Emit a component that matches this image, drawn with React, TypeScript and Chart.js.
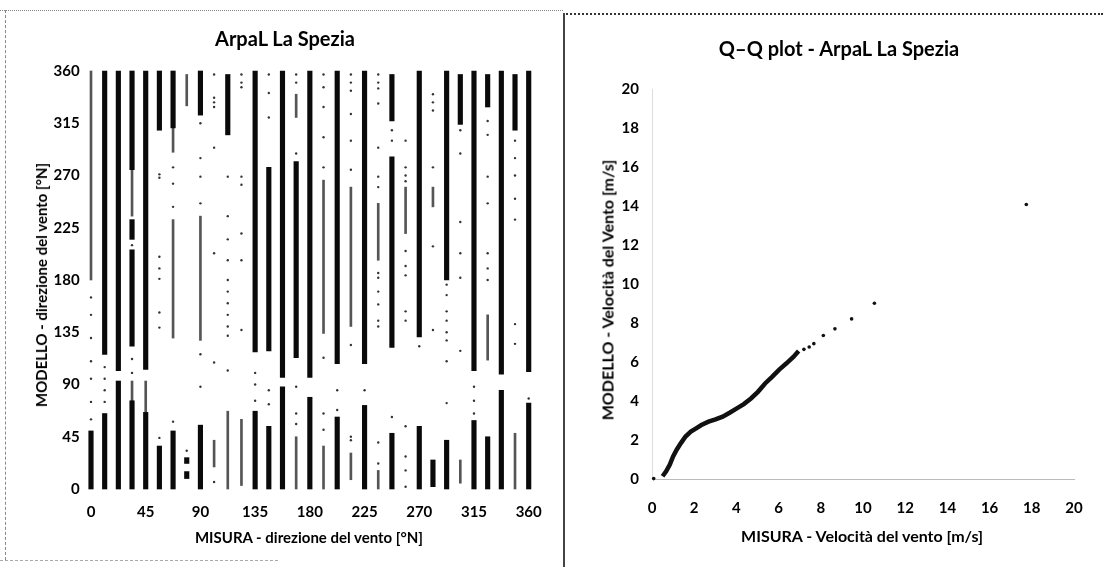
import React, { useEffect, useRef } from "react";
import { Chart, registerables } from "chart.js";

Chart.register(...registerables);

// ---------- Left chart: wind direction (32 sectors of 11.25°) ----------
const SECTOR_STEP = 11.25;
const DIR_TICKS = [0, 45, 90, 135, 180, 225, 270, 315, 360];

// [sector index, from °, to °] — dense bands of points
const DIR_DENSE: [number, number, number][] = [
  [0, 0, 50],
  [1, 0, 65], [1, 116, 360],
  [2, 0, 93], [2, 102, 360],
  [3, 0, 76], [3, 123, 206], [3, 215, 232], [3, 275, 360],
  [4, 0, 66], [4, 103, 360],
  [5, 0, 37], [5, 309, 360],
  [6, 0, 50], [6, 311, 360],
  [7, 22, 27], [7, 9, 15],
  [8, 0, 55], [8, 322, 360],
  [10, 305, 357],
  [12, 0, 67], [12, 118, 360],
  [13, 0, 54], [13, 119, 277],
  [14, 0, 88], [14, 96, 360],
  [15, 113, 282],
  [16, 0, 79], [16, 96, 360],
  [18, 0, 62], [18, 108, 360],
  [20, 0, 72], [20, 108, 360],
  [22, 0, 48], [22, 122, 286], [22, 317, 357],
  [24, 0, 54], [24, 131, 360],
  [25, 2, 25],
  [26, 0, 42], [26, 180, 360],
  [27, 314, 357],
  [28, 0, 59], [28, 102, 360],
  [29, 0, 45], [29, 329, 357],
  [30, 0, 85], [30, 99, 360],
  [31, 309, 357],
  [32, 0, 74], [32, 101, 360],
];

// lighter bands (fewer points)
const DIR_LIGHT: [number, number, number][] = [
  [0, 180, 360],
  [3, 76, 93], [3, 235, 275],
  [4, 66, 93],
  [6, 290, 311], [6, 130, 232],
  [7, 330, 357],
  [8, 128, 235],
  [9, 19, 42],
  [10, 0, 67],
  [11, 3, 60],
  [15, 0, 45], [15, 320, 340],
  [17, 0, 37], [17, 134, 266],
  [19, 8, 31], [19, 140, 260],
  [21, 0, 16], [21, 197, 246],
  [23, 220, 260],
  [25, 243, 260],
  [27, 5, 25],
  [29, 111, 150],
  [31, 0, 48],
];

// isolated points [sector index, °]
const DIR_SPARSE: [number, number][] = [
  [0, 60], [0, 75], [0, 95], [0, 110], [0, 130], [0, 150], [0, 165],
  [1, 75], [1, 85], [1, 95], [1, 105],
  [3, 100], [3, 112], [3, 210],
  [5, 44], [5, 139], [5, 152], [5, 181], [5, 190], [5, 200], [5, 268], [5, 271],
  [6, 58], [6, 243], [6, 263], [6, 277],
  [7, 33],
  [8, 88], [8, 116], [8, 246], [8, 269], [8, 285], [8, 315],
  [9, 6], [9, 109], [9, 203], [9, 294], [9, 329], [9, 333], [9, 337], [9, 357],
  [10, 102], [10, 132], [10, 140], [10, 150], [10, 160], [10, 170], [10, 180], [10, 197], [10, 215], [10, 235], [10, 269],
  [11, 137], [11, 197], [11, 220], [11, 262], [11, 269], [11, 346], [11, 350], [11, 357],
  [12, 76], [12, 90], [12, 100],
  [13, 73], [13, 85], [13, 320], [13, 341], [13, 357],
  [15, 56], [15, 65], [15, 88], [15, 289], [15, 350], [15, 357],
  [17, 51], [17, 65], [17, 113], [17, 277], [17, 303], [17, 329], [17, 346], [17, 357],
  [18, 68], [18, 85],
  [19, 42], [19, 45], [19, 124], [19, 275], [19, 300], [19, 323], [19, 343], [19, 350], [19, 357],
  [20, 85],
  [21, 22], [21, 40], [21, 140], [21, 145], [21, 159], [21, 170], [21, 182], [21, 186], [21, 260], [21, 269], [21, 294], [21, 332], [21, 345], [21, 350], [21, 357],
  [22, 62], [22, 300], [22, 309],
  [23, 2], [23, 16], [23, 28], [23, 54], [23, 145], [23, 153], [23, 184], [23, 192], [23, 205], [23, 265], [23, 270], [23, 277], [23, 300],
  [24, 123],
  [25, 137], [25, 209], [25, 277], [25, 326], [25, 333], [25, 340],
  [26, 74], [26, 110], [26, 128], [26, 135], [26, 145], [26, 153], [26, 167], [26, 176],
  [27, 119], [27, 182], [27, 203], [27, 230], [27, 289], [27, 309],
  [28, 65], [28, 76], [28, 88],
  [29, 180], [29, 190], [29, 203], [29, 246], [29, 269], [29, 305], [29, 317],
  [31, 125], [31, 142], [31, 232], [31, 250], [31, 270], [31, 285], [31, 300],
  [32, 78],
];

// ---------- Right chart: Q-Q plot of wind speed ----------
const QQ_TICKS = [0, 2, 4, 6, 8, 10, 12, 14, 16, 18, 20];
// dense part of the quantile curve (measured, model) in m/s
const QQ_BAND_X = [0.5, 0.67, 0.84, 1.0, 1.17, 1.37, 1.59, 1.84, 2.09, 2.34, 2.68, 3.01, 3.35, 3.68, 4.02, 4.35, 4.69, 5.02, 5.36, 5.69, 6.03, 6.36, 6.7, 6.95];
const QQ_BAND_Y = [0.14, 0.39, 0.73, 1.16, 1.5, 1.84, 2.18, 2.43, 2.6, 2.77, 2.94, 3.06, 3.2, 3.4, 3.62, 3.84, 4.13, 4.47, 4.9, 5.24, 5.61, 5.92, 6.26, 6.56];
// isolated upper quantiles
const QQ_TAIL_X = [0.08, 7.2, 7.45, 7.67, 8.12, 8.67, 9.46, 10.54, 17.74];
const QQ_TAIL_Y = [0.02, 6.65, 6.77, 6.94, 7.36, 7.7, 8.21, 9.01, 14.08];

const FONT = "Lato, 'Open Sans', sans-serif";
const TICK_FONT = { family: FONT, size: 15, weight: "bold" };

function LeftChart() {
  const ref = useRef<HTMLCanvasElement | null>(null);
  useEffect(() => {
    const toBar = (arr: [number, number, number][]) =>
      arr.map(([k, a, b]) => ({ x: k * SECTOR_STEP, y: [a, b] as [number, number] }));
    const chart = new Chart(ref.current as HTMLCanvasElement, {
      type: "bar",
      data: {
        datasets: [
          {
            type: "bar",
            label: "dense",
            data: toBar(DIR_DENSE) as any,
            backgroundColor: "#0a0a0a",
            grouped: false,
            barThickness: 4.5,
            maxBarThickness: 4.5,
            clip: false as any,
          } as any,
          {
            type: "bar",
            label: "light",
            data: toBar(DIR_LIGHT) as any,
            backgroundColor: "#555",
            grouped: false,
            barThickness: 2,
            maxBarThickness: 2,
            clip: false as any,
          } as any,
          {
            type: "scatter",
            label: "sparse",
            data: DIR_SPARSE.map(([k, v]) => ({ x: k * SECTOR_STEP, y: v })) as any,
            backgroundColor: "#333",
            borderWidth: 0,
            pointRadius: 1.2,
            clip: false as any,
          } as any,
        ],
      },
      options: {
        animation: false,
        responsive: false,
        maintainAspectRatio: false,
        layout: { padding: { left: 0, right: 15.7, top: 71, bottom: 0 } },
        plugins: { legend: { display: false }, tooltip: { enabled: false } },
        scales: {
          x: {
            type: "linear",
            min: -6,
            max: 366,
            offset: false,
            grid: { display: false, drawTicks: false },
            border: { display: false },
            afterFit: (s: any) => { s.height = 78; },
            afterBuildTicks: (s: any) => { s.ticks = DIR_TICKS.map((v) => ({ value: v })); },
            ticks: { color: "#000", padding: 14, font: TICK_FONT },
          },
          y: {
            type: "linear",
            min: 0,
            max: 360,
            grid: { display: false, drawTicks: false },
            border: { display: false },
            afterFit: (s: any) => { s.width = 83.7; },
            afterBuildTicks: (s: any) => { s.ticks = DIR_TICKS.map((v) => ({ value: v })); },
            ticks: { color: "#000", padding: 4, font: TICK_FONT },
          },
        },
      } as any,
    });
    return () => chart.destroy();
  }, []);
  return <canvas ref={ref} width={556} height={567} style={{ display: "block" }} />;
}

function RightChart() {
  const ref = useRef<HTMLCanvasElement | null>(null);
  useEffect(() => {
    const chart = new Chart(ref.current as HTMLCanvasElement, {
      type: "scatter",
      data: {
        datasets: [
          {
            label: "band",
            data: QQ_BAND_X.map((x, i) => ({ x, y: QQ_BAND_Y[i] })),
            showLine: true,
            borderColor: "#111",
            borderWidth: 4.5,
            pointRadius: 0,
            clip: false as any,
          } as any,
          {
            label: "tail",
            data: QQ_TAIL_X.map((x, i) => ({ x, y: QQ_TAIL_Y[i] })),
            backgroundColor: "#111",
            borderWidth: 0,
            pointRadius: 1.8,
            clip: false as any,
          } as any,
        ],
      },
      options: {
        animation: false,
        responsive: false,
        maintainAspectRatio: false,
        layout: { padding: { left: 0, right: 29, top: 89, bottom: 0 } },
        plugins: { legend: { display: false }, tooltip: { enabled: false } },
        scales: {
          x: {
            type: "linear",
            min: 0,
            max: 20,
            grid: { display: false, drawTicks: false },
            border: { display: true, color: "#bbb", dash: [1, 7] },
            afterFit: (s: any) => { s.height = 88; },
            afterBuildTicks: (s: any) => { s.ticks = QQ_TICKS.map((v) => ({ value: v })); },
            ticks: { color: "#000", padding: 20, font: TICK_FONT },
          },
          y: {
            type: "linear",
            min: 0,
            max: 20,
            grid: { display: false, drawTicks: false },
            border: { display: true, color: "#ddd", dash: [1, 14] },
            afterFit: (s: any) => { s.width = 99; },
            afterBuildTicks: (s: any) => { s.ticks = QQ_TICKS.map((v) => ({ value: v })); },
            ticks: { color: "#000", padding: 13, font: TICK_FONT },
          },
        },
      } as any,
    });
    return () => chart.destroy();
  }, []);
  return <canvas ref={ref} width={550} height={567} style={{ display: "block" }} />;
}

const text = (extra: React.CSSProperties): React.CSSProperties => ({
  position: "absolute",
  fontFamily: FONT,
  fontWeight: 700,
  color: "#000",
  whiteSpace: "nowrap",
  ...extra,
});

export default function App() {
  return (
    <div style={{ position: "absolute", left: 0, top: 0, width: 1103, height: 567, background: "#fff", overflow: "hidden" }}>
      <div style={{ position: "absolute", left: 0, top: 0 }}>
        <LeftChart />
      </div>
      <div style={{ position: "absolute", left: 553, top: 0 }}>
        <RightChart />
      </div>

      {/* scanned frame lines */}
      <div style={{ position: "absolute", left: 0, top: 10, width: 563, height: 0, borderTop: "1px dotted #888" }} />
      <div style={{ position: "absolute", left: 563, top: 13, width: 540, height: 0, borderTop: "2px dotted #333" }} />
      <div style={{ position: "absolute", left: 5, top: 10, width: 0, height: 550, borderLeft: "1px dashed #888" }} />
      <div style={{ position: "absolute", left: 0, top: 560, width: 278, height: 0, borderTop: "1px dashed #aaa" }} />
      <div style={{ position: "absolute", left: 563, top: 13, width: 0, height: 554, borderLeft: "2px solid #444" }} />

      <div style={text({ left: 285, top: 38, fontSize: 20, transform: "translate(-50%, -50%)" })}>ArpaL La Spezia</div>
      <div style={text({ left: 839, top: 48, fontSize: 20, transform: "translate(-50%, -50%)" })}>Q–Q plot - ArpaL La Spezia</div>

      <div style={text({ left: 309, top: 537, fontSize: 15, transform: "translate(-50%, -50%)" })}>MISURA - direzione del vento [°N]</div>
      <div style={text({ left: 41, top: 285, fontSize: 15, transform: "translate(-50%, -50%) rotate(-90deg)" })}>MODELLO - direzione del vento [°N]</div>

      <div style={text({ left: 862, top: 535, fontSize: 16, transform: "translate(-50%, -50%)" })}>MISURA - Velocità del vento [m/s]</div>
      <div style={text({ left: 607, top: 290, fontSize: 16, transform: "translate(-50%, -50%) rotate(-90deg)" })}>MODELLO - Velocità del Vento [m/s]</div>
    </div>
  );
}
